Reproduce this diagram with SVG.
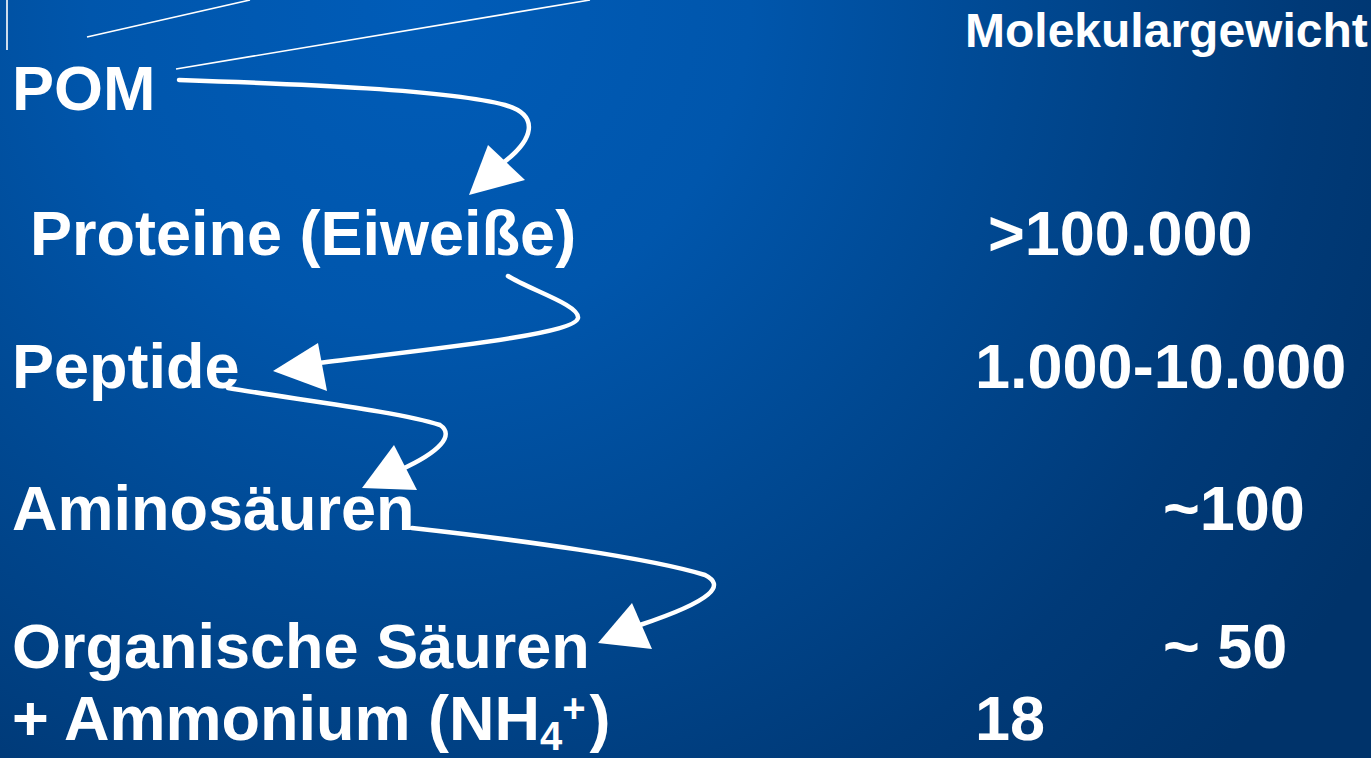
<svg xmlns="http://www.w3.org/2000/svg" width="1371" height="758" viewBox="0 0 1371 758">
<defs>
<radialGradient id="bg" gradientUnits="userSpaceOnUse" cx="420" cy="0" r="1100">
<stop offset="0" stop-color="#005cb8"/>
<stop offset="0.3" stop-color="#0056ac"/>
<stop offset="0.55" stop-color="#004891"/>
<stop offset="0.8" stop-color="#003a78"/>
<stop offset="1" stop-color="#00336a"/>
</radialGradient>
<style>
.t{font-family:"Liberation Sans",Arial,sans-serif;font-weight:bold;fill:#fff;font-size:63px}
.h{font-size:48px}
.c{fill:none;stroke:#fff;stroke-width:4.5;stroke-linecap:round}
.thin{fill:none;stroke:#fff;stroke-width:1.6}
.ah{fill:#fff;stroke:none}
</style>
</defs>
<rect width="1371" height="758" fill="url(#bg)"/>
<g id="decor">
<line class="thin" x1="7" y1="0" x2="7" y2="50"/>
<line class="thin" x1="87" y1="37" x2="250" y2="0"/>
<line class="thin" x1="176" y1="69" x2="590" y2="0"/>
</g>
<g id="header"><text class="t h" x="965" y="47">Molekulargewicht</text></g>
<g id="pom"><text class="t" x="12" y="110">POM</text></g>
<g id="proteine"><text class="t" x="30" y="255">Proteine (Eiweiße)</text><text class="t" x="988" y="255">&gt;100.000</text></g>
<g id="peptide"><text class="t" x="12" y="388">Peptide</text><text class="t" x="975" y="388">1.000-10.000</text></g>
<g id="aminosaeuren"><text class="t" x="12" y="530">Aminosäuren</text><text class="t" x="1163" y="530">~100</text></g>
<g id="organische"><text class="t" x="12" y="668">Organische Säuren</text><text class="t" x="1163" y="668">~ 50</text></g>
<g id="ammonium"><text class="t" x="12" y="740">+ Ammonium (NH<tspan font-size="40" y="750">4</tspan><tspan font-size="40" y="722">+</tspan><tspan dx="4" y="740">)</tspan></text><text class="t" x="975" y="740">18</text></g>
<g id="connectors">
<path class="c" d="M179,80 C300,84 450,90 505,105 C540,115 535,140 500,165"/>
<polygon class="ah" points="488,145 525,180 469,195"/>
<path class="c" d="M508,276 C530,290 580,305 578,318 C575,335 420,350 318,363"/>
<polygon class="ah" points="318,343 327,391 273,371"/>
<path class="c" d="M228,388 C300,400 400,412 440,425 C455,435 440,452 400,470"/>
<polygon class="ah" points="394,445 417,490 362,488"/>
<path class="c" d="M412,528 C520,540 650,558 705,575 C725,585 715,600 640,625"/>
<polygon class="ah" points="632,603 652,649 598,643"/>
</g>
</svg>
